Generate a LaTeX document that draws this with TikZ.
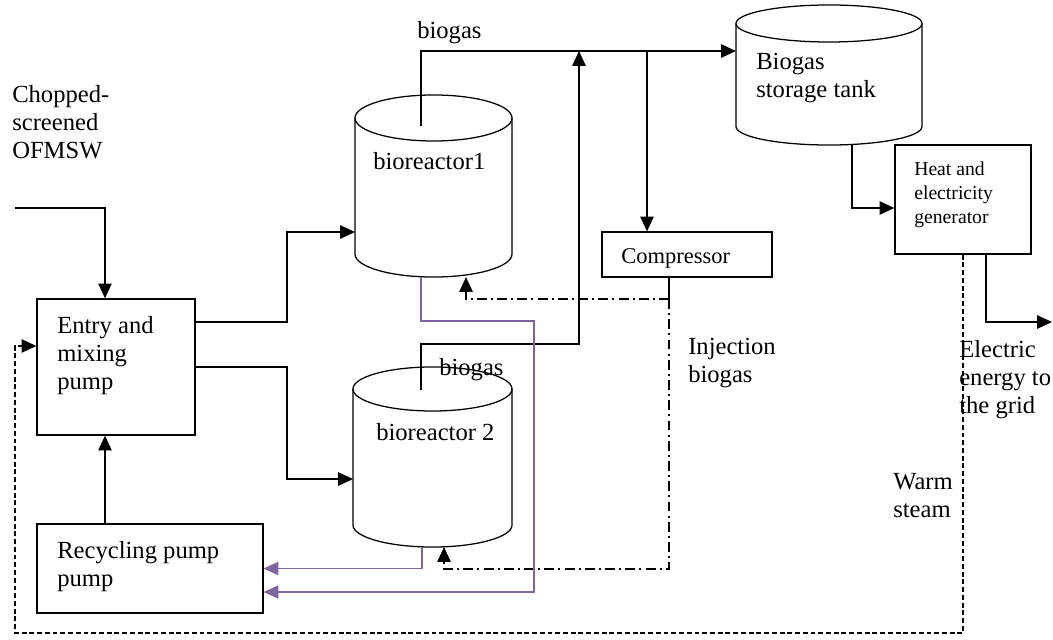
\documentclass[tikz,border=0pt]{standalone}
\usepackage{fontspec}
\setmainfont{Liberation Serif}
\usepackage{xcolor}
\usepackage{tikz}
\usetikzlibrary{arrows,arrows.meta,shapes,positioning}

\definecolor{recpurple}{HTML}{8064A2}

\tikzset{
	unit/.style={draw, line width=0.9pt, inner sep=0pt},
	vesselbox/.style={inner sep=0pt, outer sep=0pt},
	lbl/.style={anchor=north west, inner sep=0pt, align=left, font=\fontsize{17.5}{20}\selectfont},
	flow/.style={line width=0.9pt, -{Triangle[length=10.5pt,width=9.5pt]}},
	recflow/.style={flow, draw=recpurple, line width=0.8pt, -{Triangle[length=10.5pt,width=9.5pt,fill=recpurple]}},
	inject/.style={flow, dash pattern=on 7pt off 3pt on 1.4pt off 3pt},
	steam/.style={flow, dash pattern=on 3.5pt off 2pt}
}

% outline of a vessel round a named box: #1 name, #2 x radius, #3 y radius
\newcommand{\drawvessel}[3]{%
	\draw[line width=0.9pt] ([yshift=-#3]#1.north west) -- ([yshift=#3]#1.south west)
		arc[start angle=180, end angle=360, x radius=#2, y radius=#3] -- ([yshift=-#3]#1.north east);
	\draw[line width=0.9pt] ([yshift=-#3]#1.north) ellipse[x radius=#2, y radius=#3];
}

\begin{document}
\begin{tikzpicture}[x=0.025cm, y=-0.025cm]
	\useasboundingbox (0,0) rectangle (1053,639);
	
	% units
	\node[unit, minimum width=3.95cm, minimum height=3.4cm] (mix) at (116,367) {};
	\node[unit, minimum width=5.65cm, minimum height=2.225cm] (recyc) at (150,568.5) {};
	\node[unit, minimum width=4.25cm, minimum height=1.125cm] (comp) at (687,254.5) {};
	\node[unit, minimum width=3.4cm, minimum height=2.725cm] (gen) at (963,199.5) {};
	
	% vessels
	\node[vesselbox, minimum width=3.925cm, minimum height=4.55cm] (bio1) at (433.5,186) {};
	\node[vesselbox, minimum width=3.975cm, minimum height=4.5cm] (bio2) at (432.5,457) {};
	\node[vesselbox, minimum width=4.65cm, minimum height=3.5cm] (store) at (829,75) {};
	\drawvessel{bio1}{1.9625cm}{0.575cm}
	\drawvessel{bio2}{1.9875cm}{0.55cm}
	\drawvessel{store}{2.325cm}{0.4625cm}
	
	% texts
	\node[lbl] (feedtxt) at (12,85) {Chopped-\\screened\\OFMSW};
	\node[lbl] (mixtxt) at (57,316) {Entry and\\mixing\\pump};
	\node[lbl] (rectxt) at (57,541) {Recycling pump\\pump};
	\node[lbl] (bio1txt) at (373,152) {bioreactor1};
	\node[lbl] (bio2txt) at (376,423) {bioreactor 2};
	\node[lbl] (gas1txt) at (417,21) {biogas};
	\node[lbl] (gas2txt) at (439,358) {biogas};
	\node[lbl, font=\fontsize{16}{19}\selectfont] (comptxt) at (621,248) {Compressor};
	\node[lbl] (injtxt) at (688,338) {Injection\\biogas};
	\node[lbl] (storetxt) at (756,53) {Biogas\\storage tank};
	\node[lbl, font=\fontsize{14}{17}\selectfont] (gentxt) at (914,162) {Heat and\\electricity\\generator};
	\node[lbl] (gridtxt) at (959,340) {Electric\\energy to\\the grid};
	\node[lbl] (steamtxt) at (893,473) {Warm\\steam};
	
	% junction points
	\coordinate (feed) at (15,208);
	\coordinate (feedcorner) at (105,208);
	\coordinate (split) at (287,322);
	\coordinate (split2) at (287,367);
	\coordinate (gas1) at (421,126);
	\coordinate (gasline) at (421,51);
	\coordinate (gas2) at (421,390);
	\coordinate (riser) at (579,344);
	\coordinate (tee) at (647,51);
	\coordinate (inj) at (669,299);
	\coordinate (injlow) at (669,569);
	\coordinate (drain1) at (534,321);
	\coordinate (grid) at (1052,322);
	\coordinate (loopl) at (15,633);
	
	% feed and mixing
	\draw[flow] (feed) -- (feedcorner) -- (mix.north -| feedcorner);
	\draw[flow] (recyc.north -| feedcorner) -- (mix.south -| feedcorner);
	\draw[flow] (mix.east |- split) -- (split) |- ([yshift=-1.15cm]bio1.west);
	\draw[flow] (mix.east) -- (split2) |- ([yshift=-0.55cm]bio2.west);
	
	% biogas lines
	\draw[flow] (gas1) -- (gasline) -- (store.west |- gasline);
	\draw[flow] (gas2) |- (riser) -- (riser |- gasline);
	\draw[flow] (tee) -- (comp.north -| tee);
	\draw[flow] ([xshift=0.575cm]store.south) |- ([yshift=-0.2125cm]gen.west);
	\draw[flow] ([xshift=0.575cm]gen.south) |- (grid);
	
	% injection
	\draw[line width=0.9pt] (comp.south -| inj) -- (inj);
	\draw[inject] (inj) -| ([xshift=0.8125cm]bio1.south);
	\draw[inject] (inj) -- (injlow) -| ([xshift=0.2875cm]bio2.south);
	
	% recycling
	\draw[recflow] ([xshift=-0.3125cm]bio1.south) |- (drain1) |- ([yshift=-0.5875cm]recyc.east);
	\draw[recflow] ([xshift=-0.2625cm]bio2.south) |- (recyc.east);
	
	% warm steam
	\draw[steam] (gen.south) |- (loopl) |- ([yshift=0.525cm]mix.west);
\end{tikzpicture}
\end{document}
